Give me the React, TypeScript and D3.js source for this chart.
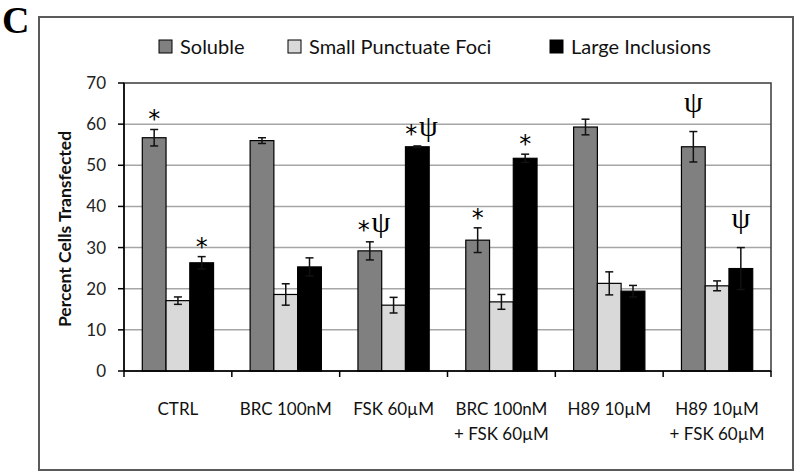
import React from "react";
import * as d3 from "d3";

const categories = ["CTRL", "BRC 100nM", "FSK 60µM", "BRC 100nM|+ FSK 60µM", "H89 10µM", "H89 10µM|+ FSK 60µM"];
const seriesNames = ["Soluble", "Small Punctuate Foci", "Large Inclusions"];
const seriesColors = ["#808080", "#d9d9d9", "#000000"];
const soluble = [56.7, 56.0, 29.2, 31.8, 59.3, 54.5];
const solubleErr = [2.0, 0.7, 2.2, 3.0, 1.9, 3.7];
const smallFoci = [17.1, 18.6, 16.0, 16.8, 21.3, 20.7];
const smallFociErr = [0.9, 2.6, 1.9, 1.8, 2.8, 1.2];
const largeInc = [26.3, 25.3, 54.5, 51.7, 19.4, 24.9];
const largeIncErr = [1.5, 2.2, 0.2, 1.0, 1.4, 5.1];
const yTicks = [0, 10, 20, 30, 40, 50, 60, 70];
// annotations: [category index, series index, marker text]
const annotations: [number, number, string][] = [
  [0, 0, "*"],
  [0, 2, "*"],
  [2, 0, "*ψ"],
  [2, 2, "*ψ"],
  [3, 0, "*"],
  [3, 2, "*"],
  [5, 0, "ψ"],
  [5, 2, "ψ"],
];

const values = [soluble, smallFoci, largeInc];
const errors = [solubleErr, smallFociErr, largeIncErr];

export default function App() {
  const W = 800, H = 476;
  const L = 124, R = 771, T = 83, B = 371;
  const font = "Lato, 'Open Sans', sans-serif";
  const x = d3.scaleBand<number>().domain(d3.range(categories.length)).range([L, R]).padding(0);
  const bw = x.bandwidth();
  const xs = d3.scaleBand<number>().domain([0, 1, 2]).range([0, bw]).paddingInner(0).paddingOuter(0.77);
  const y = d3.scaleLinear().domain([0, 70]).range([B, T]);
  const barW = xs.bandwidth();
  const psiFont = "'Liberation Serif', 'Times New Roman', serif";

  return (
    <svg width={W} height={H} style={{ position: "absolute", left: 0, top: 0, background: "#fff" }}>
      <rect x={0} y={0} width={W} height={H} fill="#fff" />
      <rect x={39} y={17} width={754} height={453} fill="none" stroke="#5a5a5a" strokeWidth={2} />
      <text x={2} y={33} fontFamily="'Liberation Serif', 'Times New Roman', serif" fontWeight="bold" fontSize={38}>C</text>

      {/* legend */}
      {(() => {
        const pos = [159, 288, 550];
        return seriesNames.map((n, i) => (
          <g key={n}>
            <rect x={pos[i]} y={40} width={13} height={13} fill={seriesColors[i]} stroke="#000" strokeWidth={1} />
            <text x={pos[i] + 21} y={54} fontFamily={font} fontSize={20} fill="#111">{n}</text>
          </g>
        ));
      })()}

      {/* gridlines */}
      {yTicks.filter((t) => t > 0 && t < 70).map((t) => (
        <line key={t} x1={L} x2={R} y1={y(t)} y2={y(t)} stroke="#a6a6a6" strokeWidth={1.5} />
      ))}
      <rect x={L} y={T} width={R - L} height={B - T} fill="none" stroke="#3a3a3a" strokeWidth={1.5} />

      {/* y axis */}
      <line x1={L} x2={L} y1={T} y2={B} stroke="#000" strokeWidth={1.5} />
      {yTicks.map((t) => (
        <g key={t}>
          <line x1={L - 6} x2={L} y1={y(t)} y2={y(t)} stroke="#000" strokeWidth={1.5} />
          <text x={106} y={y(t) + 6} textAnchor="end" fontFamily={font} fontSize={17} fill="#222">{t}</text>
        </g>
      ))}
      <text transform={`translate(71, ${(T + B) / 2 + 2}) rotate(-90)`} textAnchor="middle" fontFamily={font} fontWeight="bold" fontSize={17.5} fill="#111">Percent Cells Transfected</text>

      {/* bars */}
      {values.map((arr, s) =>
        arr.map((v, c) => {
          const bx = (x(c) as number) + (xs(s) as number);
          return (
            <rect key={`${s}-${c}`} x={bx} y={y(v)} width={barW} height={B - y(v)} fill={seriesColors[s]} stroke="#000" strokeWidth={1.2} />
          );
        })
      )}
      {/* error bars */}
      {values.map((arr, s) =>
        arr.map((v, c) => {
          const cx = (x(c) as number) + (xs(s) as number) + barW / 2;
          const e = errors[s][c];
          const y1 = y(v + e), y2 = y(v - e);
          return (
            <g key={`e${s}-${c}`} stroke="#111" strokeWidth={1.5}>
              <line x1={cx} x2={cx} y1={y1} y2={y2} />
              <line x1={cx - 4} x2={cx + 4} y1={y1} y2={y1} />
              <line x1={cx - 4} x2={cx + 4} y1={y2} y2={y2} />
            </g>
          );
        })
      )}

      {/* x axis */}
      <line x1={L} x2={R} y1={B} y2={B} stroke="#000" strokeWidth={1.5} />
      {d3.range(categories.length + 1).map((i) => {
        const tx = L + i * bw;
        return <line key={i} x1={tx} x2={tx} y1={B} y2={B + 6} stroke="#000" strokeWidth={1.5} />;
      })}
      {categories.map((c, i) => {
        const cx = (x(i) as number) + bw / 2;
        const lines = c.split("|");
        return (
          <text key={c} textAnchor="middle" fontFamily={font} fontSize={17} fill="#111">
            {lines.map((ln, j) => (
              <tspan key={j} x={cx} y={415 + j * 25}>{ln}</tspan>
            ))}
          </text>
        );
      })}

      {/* significance markers */}
      {annotations.map(([c, s, txt], k) => {
        const cx = (x(c) as number) + (xs(s) as number) + barW / 2;
        const v = values[s][c] + errors[s][c];
        const top = y(v);
        const hasStar = txt[0] === "*";
        const hasPsi = txt.includes("ψ");
        if (hasStar && hasPsi) {
          return (
            <g key={k}>
              <text x={cx - 6} y={top - 4} textAnchor="middle" fontFamily="'DejaVu Sans', sans-serif" fontSize={24}>*</text>
              <text x={cx + 11} y={top - 10} textAnchor="middle" fontFamily={psiFont} fontSize={30}>ψ</text>
            </g>
          );
        }
        if (hasStar) {
          return <text key={k} x={cx} y={top - 2} textAnchor="middle" fontFamily="'DejaVu Sans', sans-serif" fontSize={24}>*</text>;
        }
        return <text key={k} x={cx} y={top - 20} textAnchor="middle" fontFamily={psiFont} fontSize={30}>ψ</text>;
      })}
    </svg>
  );
}
